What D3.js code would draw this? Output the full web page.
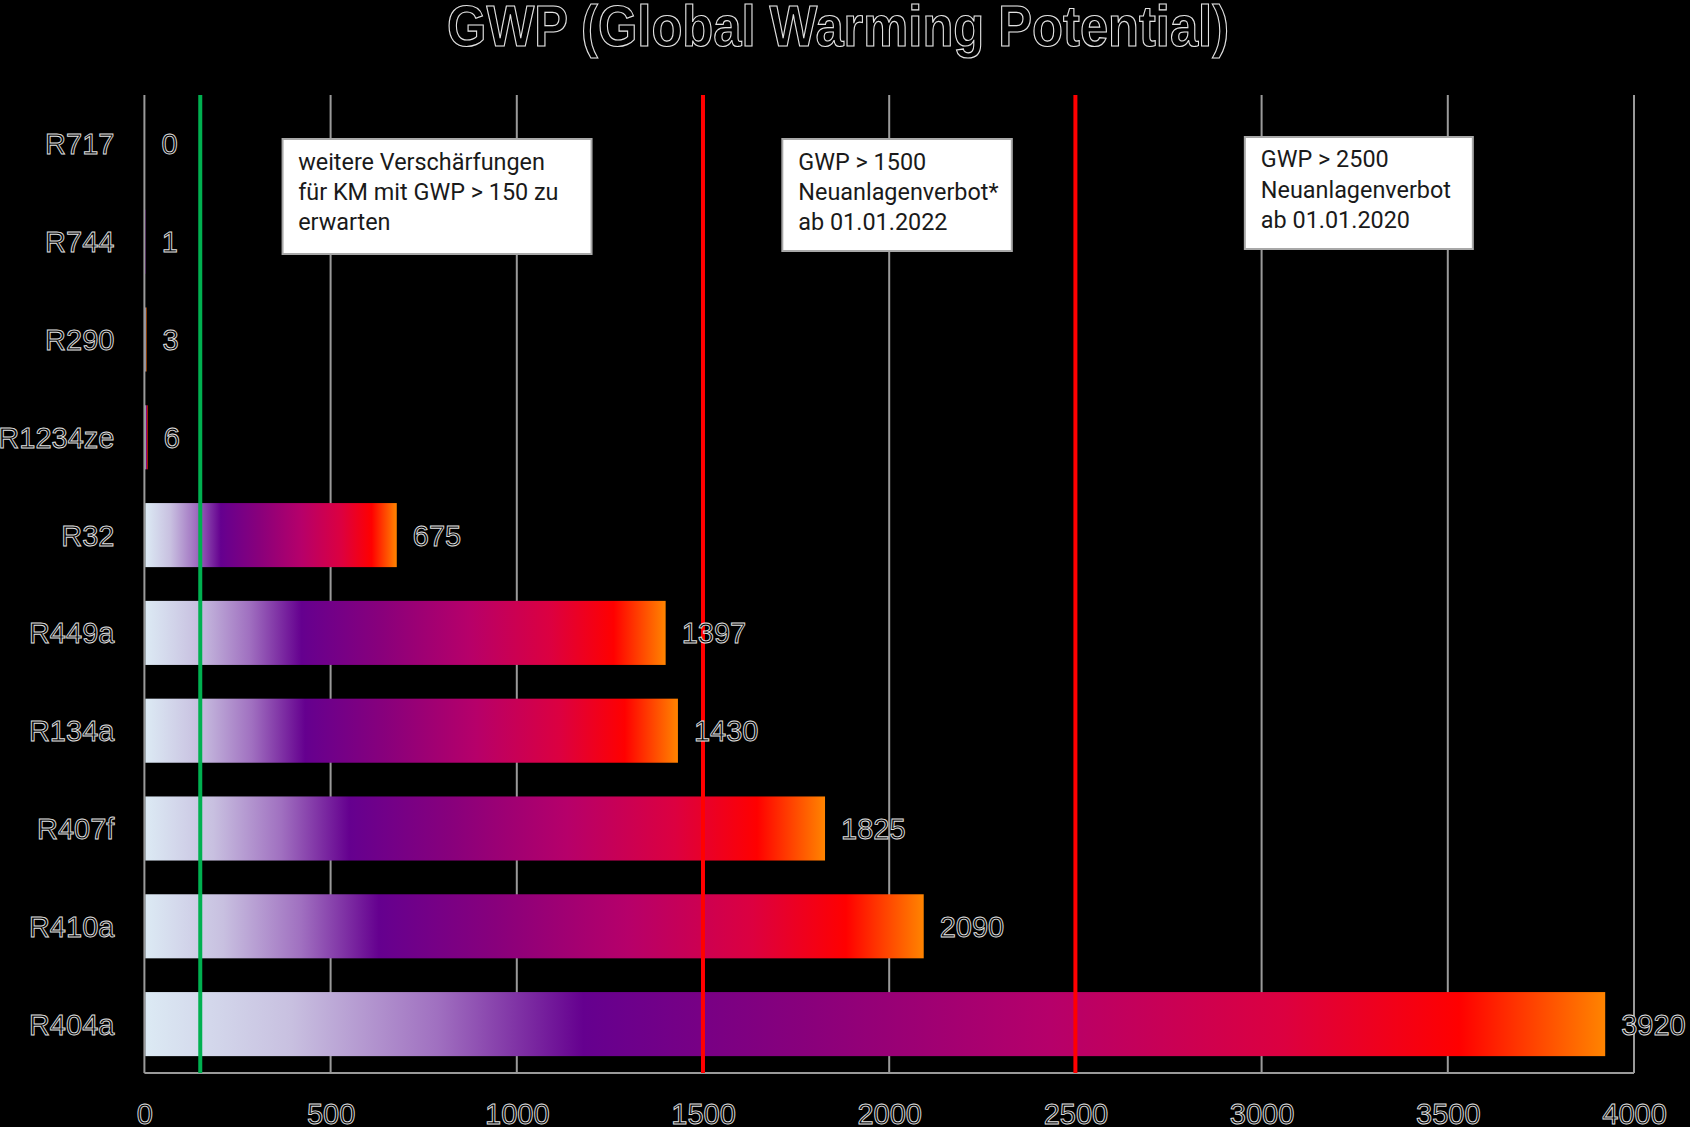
<!DOCTYPE html>
<html>
<head>
<meta charset="utf-8">
<script src="https://cdn.jsdelivr.net/npm/d3@7"></script>
<style>
  html, body { margin: 0; padding: 0; background: #000; }
  svg { display: block; }
</style>
</head>
<body>
<svg id="chart" width="1690" height="1127"></svg>
<script>
// ---- data ----
const categories = ["R717", "R744", "R290", "R1234ze", "R32", "R449a", "R134a", "R407f", "R410a", "R404a"];
const gwpValues = [0, 1, 3, 6, 675, 1397, 1430, 1825, 2090, 3920];
const xTickValues = [0, 500, 1000, 1500, 2000, 2500, 3000, 3500, 4000];
const thresholdValues = [150, 1500, 2500];
const thresholdColors = ["#00b050", "#ff0000", "#ff0000"];
const noteLines = [
  ["weitere Verschärfungen", "für KM mit GWP > 150 zu", "erwarten"],
  ["GWP > 1500", "Neuanlagenverbot*", "ab 01.01.2022"],
  ["GWP > 2500", "Neuanlagenverbot", "ab 01.01.2020"]
];
const noteAnchors = [371, 1713, 2955];
const titleText = "GWP (Global Warming Potential)";

// ---- layout ----
const W = 1690, H = 1127;
const plot = { left: 144.4, right: 1634, top: 95, bottom: 1073 };
const svg = d3.select("#chart");
svg.append("rect").attr("width", W).attr("height", H).attr("fill", "#000");

const x = d3.scaleLinear().domain([0, 4000]).range([plot.left, plot.right]);
const y = d3.scaleBand().domain(categories).range([plot.top, plot.bottom])
  .paddingInner(0.345).paddingOuter(0.1725);

const outlineFont = "'Liberation Sans', Arial, sans-serif";
function outlined(sel, size) {
  return sel.attr("font-family", outlineFont).attr("font-size", size)
    .attr("fill", "#000").attr("stroke", "#e2e2e2").attr("stroke-width", 0.9);
}

// gradient
const defs = svg.append("defs");
const grad = defs.append("linearGradient").attr("id", "barGrad")
  .attr("x1", 0).attr("y1", 0).attr("x2", 1).attr("y2", 0);
[[0, "#dceaf4"], [0.1, "#c8c0e0"], [0.2, "#a070c0"], [0.3, "#65008f"], [0.45, "#88007c"],
 [0.62, "#b6006a"], [0.78, "#dc0040"], [0.9, "#ff0000"], [1, "#ff8400"]]
  .forEach(([o, c]) => grad.append("stop").attr("offset", o).attr("stop-color", c));

// gridlines
svg.append("g").selectAll("line").data(xTickValues).join("line")
  .attr("x1", d => x(d)).attr("x2", d => x(d))
  .attr("y1", plot.top).attr("y2", plot.bottom)
  .attr("stroke", "#9a9a9a").attr("stroke-width", 2);

// axis line bottom
svg.append("line").attr("x1", plot.left).attr("x2", plot.right)
  .attr("y1", plot.bottom).attr("y2", plot.bottom)
  .attr("stroke", "#9a9a9a").attr("stroke-width", 2);

// x tick labels via d3 axis
const xAxis = svg.append("g").attr("transform", `translate(0,${plot.bottom})`)
  .call(d3.axisBottom(x).tickValues(xTickValues).tickSize(0).tickPadding(30).tickFormat(d3.format("d")));
xAxis.select(".domain").remove();
outlined(xAxis.selectAll("text"), 29).attr("dy", "0.71em");

// y labels
const yAxis = svg.append("g").attr("transform", `translate(${plot.left - 30},0)`)
  .call(d3.axisLeft(y).tickSize(0).tickPadding(0));
yAxis.select(".domain").remove();
outlined(yAxis.selectAll("text"), 29).attr("dy", "0.36em");

// bars
svg.append("g").selectAll("rect").data(gwpValues).join("rect")
  .attr("x", x(0) + 1)
  .attr("y", (d, i) => y(categories[i]))
  .attr("height", y.bandwidth())
  .attr("width", d => Math.max(0, x(d) - x(0)))
  .attr("fill", "url(#barGrad)");

// threshold lines
svg.append("g").selectAll("line").data(thresholdValues).join("line")
  .attr("x1", d => x(d)).attr("x2", d => x(d))
  .attr("y1", plot.top).attr("y2", plot.bottom)
  .attr("stroke", (d, i) => thresholdColors[i]).attr("stroke-width", 4);

// value labels
outlined(svg.append("g").selectAll("text").data(gwpValues).join("text")
  .attr("x", d => x(d) + 17)
  .attr("y", (d, i) => y(categories[i]) + y.bandwidth() / 2)
  .attr("dy", "0.36em")
  .text(d => d), 29);

// annotation boxes
const noteBox = [
  { top: 139, w: 309, h: 115, pad: 15.6, first: 169.5 },
  { top: 139, w: 229.5, h: 112, pad: 16, first: 169.5 },
  { top: 137, w: 228, h: 112, pad: 16, first: 167.3 }
];
const notes = svg.append("g").selectAll("g").data(noteLines).join("g");
notes.append("rect")
  .attr("x", (d, i) => x(noteAnchors[i]))
  .attr("y", (d, i) => noteBox[i].top)
  .attr("width", (d, i) => noteBox[i].w)
  .attr("height", (d, i) => noteBox[i].h)
  .attr("fill", "#fff").attr("stroke", "#a8a8a8").attr("stroke-width", 2);
notes.each(function(lines, i) {
  d3.select(this).selectAll("text").data(lines).join("text")
    .attr("x", x(noteAnchors[i]) + noteBox[i].pad)
    .attr("y", (l, j) => noteBox[i].first + j * 30.2)
    .attr("font-family", "Roboto, 'Noto Sans', sans-serif")
    .attr("font-size", 23.4)
    .attr("fill", "#1a1a1a")
    .text(l => l);
});

// title
outlined(svg.append("text")
  .attr("x", 838).attr("y", 46)
  .attr("text-anchor", "middle")
  .attr("font-weight", "bold")
  .attr("textLength", 782).attr("lengthAdjust", "spacingAndGlyphs")
  .text(titleText), 57).attr("stroke-width", 1.2);
</script>
</body>
</html>
